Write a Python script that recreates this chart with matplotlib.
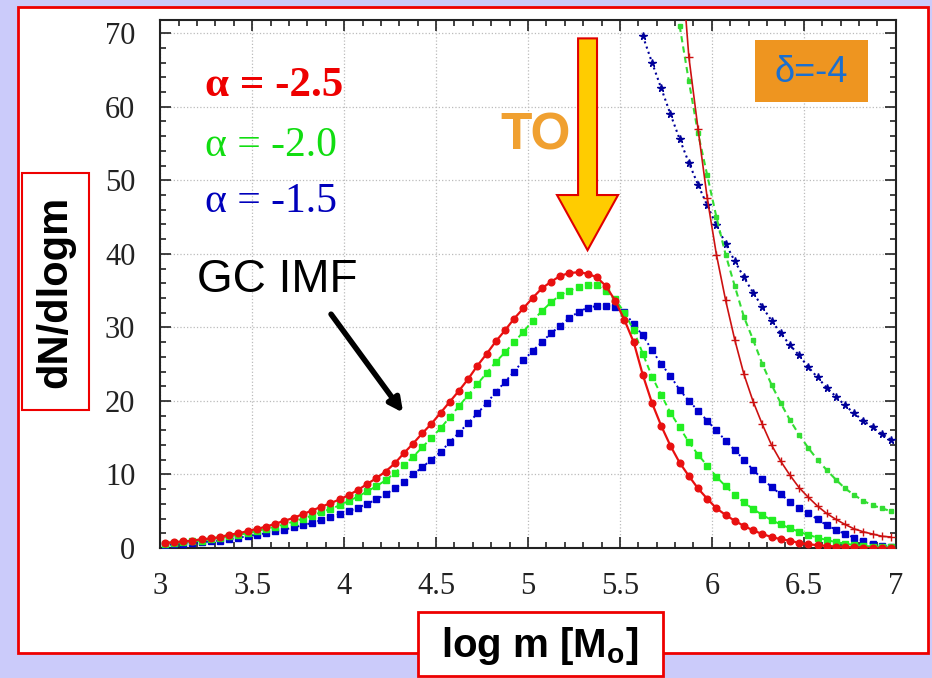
import numpy as np
import matplotlib
matplotlib.use('Agg')
import matplotlib.pyplot as plt
import matplotlib.patches as mpatches
from matplotlib.ticker import MultipleLocator

plt.rcParams['mathtext.fontset'] = 'custom'
plt.rcParams['mathtext.rm'] = 'Liberation Sans'
plt.rcParams['mathtext.bf'] = 'Liberation Sans:bold'

# log mass bin centres
logM = np.arange(3.025, 7.0, 0.05)

# GC initial mass functions for the three slopes
imfAlpha25 = [0.7, 0.8, 0.9, 1.0, 1.2, 1.3, 1.5, 1.8, 2.0, 2.3,
              2.6, 2.9, 3.3, 3.7, 4.1, 4.6, 5.1, 5.6, 6.1, 6.6,
              7.2, 7.9, 8.7, 9.5, 10.4, 11.5, 12.9, 14.2, 15.6, 16.9,
              18.4, 19.9, 21.4, 23.0, 24.8, 26.4, 28.1, 29.6, 31.2, 32.6,
              34.0, 35.3, 36.2, 37.0, 37.4, 37.5, 37.3, 36.8, 35.6, 33.6,
              31.0, 28.0, 23.5, 19.7, 16.6, 13.9, 11.6, 9.8, 8.1, 6.7,
              5.4, 4.5, 3.7, 3.0, 2.4, 1.9, 1.5, 1.2, 1.0, 0.7,
              0.5, 0.4, 0.3, 0.2, 0.1, 0.1, 0.05, 0.0, 0.0, 0.0]
imfAlpha20 = [0.6, 0.7, 0.8, 0.9, 1.0, 1.2, 1.4, 1.6, 1.8, 2.0,
              2.3, 2.6, 2.9, 3.2, 3.6, 4.0, 4.4, 4.9, 5.3, 5.8,
              6.4, 7.0, 7.7, 8.4, 9.2, 10.2, 11.3, 12.4, 13.7, 15.0,
              16.3, 17.8, 19.3, 20.8, 22.3, 23.8, 25.3, 26.6, 28.0, 29.4,
              30.9, 32.2, 33.4, 34.4, 35.0, 35.5, 35.7, 35.7, 34.9, 33.8,
              32.0, 29.6, 26.4, 23.3, 20.8, 18.4, 16.4, 14.4, 12.7, 11.2,
              9.7, 8.4, 7.2, 6.2, 5.3, 4.5, 3.8, 3.2, 2.7, 2.2,
              1.8, 1.4, 1.1, 0.8, 0.6, 0.4, 0.3, 0.2, 0.15, 0.1]
imfAlpha15 = [0.4, 0.5, 0.6, 0.7, 0.8, 0.9, 1.0, 1.2, 1.4, 1.6,
              1.8, 2.0, 2.3, 2.5, 2.8, 3.1, 3.4, 3.8, 4.2, 4.6,
              5.0, 5.5, 6.0, 6.6, 7.3, 8.1, 9.0, 10.0, 11.0, 12.0,
              13.1, 14.4, 15.7, 17.0, 18.3, 19.7, 21.2, 22.6, 24.0, 25.5,
              26.8, 28.0, 29.2, 30.2, 31.3, 32.1, 32.7, 32.9, 32.9, 32.8,
              32.1, 30.4, 28.9, 26.9, 25.0, 23.4, 21.5, 20.0, 18.7, 17.3,
              16.0, 14.6, 13.3, 12.0, 10.6, 9.4, 8.3, 7.3, 6.3, 5.5,
              4.7, 3.9, 3.1, 2.5, 1.9, 1.4, 1.0, 0.6, 0.3, 0.2]

# present day distributions (delta = -4), only the high mass end
pdAlpha25 = [83.0, 66.8, 57.0, 47.6, 39.9, 33.7, 28.3, 23.6, 19.9, 16.8,
             14.0, 11.8, 9.9, 8.2, 6.9, 5.7, 4.7, 3.9, 3.2, 2.6,
             2.2, 1.9, 1.6, 1.5]
pdAlpha20 = [71.0, 63.5, 56.4, 50.7, 45.0, 39.9, 35.6, 31.4, 28.3, 25.0,
             22.2, 19.7, 17.4, 15.4, 13.6, 12.0, 10.6, 9.3, 8.1, 7.2,
             6.4, 5.8, 5.4, 5.0]
pdAlpha15 = [69.6, 66.0, 62.5, 59.0, 55.6, 52.4, 49.4, 46.6, 43.9, 41.4,
             39.0, 36.8, 34.7, 32.8, 30.9, 29.2, 27.6, 26.2, 24.6, 23.2,
             21.8, 20.6, 19.4, 18.3, 17.3, 16.4, 15.5, 14.7]

alphaLabels = ['α = -2.5', 'α = -2.0', 'α = -1.5']

red = '#e81010'
green = '#22ee22'
blue = '#0000cc'

my_dpi = 100
fig = plt.figure(figsize=(932/my_dpi, 678/my_dpi), dpi=my_dpi, facecolor='#cbcbfa')

# white panel with red frame
panel = mpatches.Rectangle((0.0193, 0.0369), 0.9764, 0.9528, transform=fig.transFigure,
                           facecolor='white', edgecolor='#ee0000', lw=2, zorder=0)
fig.add_artist(panel)

ax1 = fig.add_axes([0.172, 0.1917, 0.789, 0.7788])
ax1.set_facecolor('white')

ax1.plot(logM, imfAlpha25, color=red, lw=1.6, marker='o', ms=4.8, zorder=5)
ax1.plot(logM, imfAlpha20, color=green, lw=1.4, ls=(0, (3, 2)), marker='s', ms=4.8, zorder=4)
ax1.plot(logM, imfAlpha15, color=blue, lw=1.4, ls=':', marker='s', ms=4.8, zorder=3)

ax1.plot(logM[-len(pdAlpha25):], pdAlpha25, color='#cc1111', lw=1.2, marker='+', ms=6, mew=1.0, zorder=5)
ax1.plot(logM[-len(pdAlpha20):], pdAlpha20, color='#33dd33', lw=1.5, ls=(0, (3, 2)), marker='s', ms=2.5, zorder=4)
ax1.plot(logM[-len(pdAlpha15):], pdAlpha15, color='#000099', lw=1.5, ls=':', marker='*', ms=5.5, zorder=3)

ax1.set_xlim(3, 7)
ax1.set_ylim(0, 71.8)
ax1.xaxis.set_major_locator(MultipleLocator(0.5))
ax1.xaxis.set_minor_locator(MultipleLocator(0.1))
ax1.yaxis.set_major_locator(MultipleLocator(10))
ax1.yaxis.set_minor_locator(MultipleLocator(2))
ax1.xaxis.set_major_formatter(plt.FuncFormatter(lambda v, p: '%g' % v))
ax1.tick_params(which='both', direction='in', top=True, right=True, width=1.2, colors='#222222')
ax1.tick_params(which='major', length=8)
ax1.tick_params(which='minor', length=4)
ax1.tick_params(axis='x', pad=17)
ax1.tick_params(axis='y', pad=18)
for lab in ax1.get_xticklabels() + ax1.get_yticklabels():
    lab.set_fontfamily('Liberation Serif')
    lab.set_fontsize(22)
for sp in ax1.spines.values():
    sp.set_linewidth(1.5)
    sp.set_color('#222222')
ax1.set_axisbelow(True)
ax1.grid(True, which='major', ls=':', color='#bbbbbb', lw=0.9)

# slope legend
fig.text(0.220, 0.858, alphaLabels[0], color='#ee0000', fontsize=31, fontweight='bold',
         family='Liberation Serif', ha='left', va='baseline')
fig.text(0.220, 0.770, alphaLabels[1], color='#11dd11', fontsize=30,
         family='Liberation Serif', ha='left', va='baseline')
fig.text(0.220, 0.688, alphaLabels[2], color='#0000bb', fontsize=30,
         family='Liberation Serif', ha='left', va='baseline')

# GC IMF pointer
fig.text(0.2114, 0.5693, 'GC IMF', color='black', fontsize=33, family='Liberation Sans',
         ha='left', va='baseline')
ax1.annotate('', xy=(4.33, 18.1), xytext=(3.92, 32.1),
             arrowprops=dict(arrowstyle='-|>,head_length=0.8,head_width=0.4', color='black', lw=4))

# turn-off arrow
toArrow = mpatches.FancyArrow(5.324, 69.3, 0, -28.8, width=0.103, head_width=0.332, head_length=7.5,
                              length_includes_head=True, facecolor='#ffcc00', edgecolor='#e00000',
                              lw=1.5, zorder=6)
ax1.add_patch(toArrow)
fig.text(0.5365, 0.779, 'TO', color='#f0a030', fontsize=37, fontweight='bold',
         family='Liberation Sans', ha='left', va='baseline')

# delta box
deltaBox = mpatches.Rectangle((0.810, 0.8496), 0.121, 0.0914, transform=fig.transFigure,
                              facecolor='#ee9520', edgecolor='none', zorder=5)
fig.add_artist(deltaBox)
fig.text(0.8707, 0.8938, 'δ=-4', color='#1a6fd0', fontsize=26, family='Liberation Sans',
         ha='center', va='center', zorder=6)

# axis title boxes
yBox = mpatches.Rectangle((0.0236, 0.3953), 0.0719, 0.3495, transform=fig.transFigure,
                          facecolor='white', edgecolor='#ee0000', lw=1.5, zorder=5)
fig.add_artist(yBox)
fig.text(0.0595, 0.570, 'dN/dlogm', rotation=90, fontsize=30, fontweight='bold',
         family='Liberation Sans', ha='center', va='center', zorder=6)

xBox = mpatches.Rectangle((0.4485, 0.003), 0.2629, 0.0943, transform=fig.transFigure,
                          facecolor='white', edgecolor='#ee0000', lw=2, zorder=5)
fig.add_artist(xBox)
fig.text(0.5794, 0.0472, r'log m [M$_\mathbf{o}$]', fontsize=29, fontweight='bold',
         family='Liberation Sans', ha='center', va='center', zorder=6)

fig.savefig('out.png', dpi=my_dpi, facecolor=fig.get_facecolor())
